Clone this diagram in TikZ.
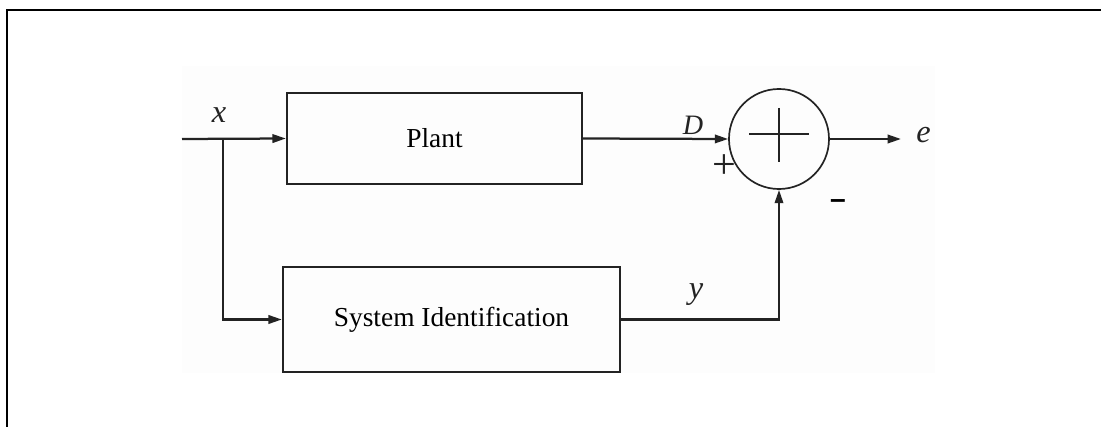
\documentclass[tikz,border=0pt]{standalone}
\usepackage{fontspec}
\setmainfont{Liberation Serif}
\newfontfamily\sansbold{Liberation Sans}
\usetikzlibrary{arrows.meta,calc}
\definecolor{bgfill}{RGB}{253,253,253}
\definecolor{ink}{RGB}{35,35,35}
\tikzset{
  blockbox/.style={draw=ink,line width=1.6pt,inner sep=0pt,font=\fontsize{19.5}{22}\selectfont},
  sumnode/.style={draw=ink,circle,line width=1.2pt,minimum size=2.5cm,inner sep=0pt},
  conn/.style={draw=ink,line width=1.6pt},
  arr/.style={conn,-{Triangle[length=9.5pt,width=6pt]}},
  siglabel/.style={font=\fontsize{23}{26}\selectfont\itshape,inner sep=0pt,text=ink},
}
\begin{document}
\begin{tikzpicture}[x=0.025cm,y=-0.025cm]
\useasboundingbox (0,0) rectangle (1101,427);
% faint background of the figure
\fill[bgfill] (182,66) rectangle (935,373);
% frame
\draw[line width=1.4pt] (1101,10) -- (7,10) -- (7,427);
% blocks
\node[blockbox,minimum width=7.375cm,minimum height=2.275cm] (plant) at (434.5,138.5) {Plant};
\node[blockbox,minimum width=8.425cm,minimum height=2.625cm] (sysid) at (451.5,319.5) {System Identification};
\node[sumnode] (sum) at (779,139) {};
\draw[ink,line width=1.2pt] ($(sum.center)+(-30,-5)$) -- ($(sum.center)+(30,-5)$);
\draw[ink,line width=1.2pt] ($(sum.center)+(0,-31)$) -- ($(sum.center)+(0,23)$);
% coordinates
\coordinate (in) at (182,139);
\coordinate (branch) at (223,139);
\coordinate (out) at (901,139);
% connectors
\draw[arr] (in) -- (plant.west);
\draw[arr] (branch) |- (sysid.west);
\draw[arr] (plant.east) -- (sum.west);
\draw[arr] (sum.east) -- (out);
\draw[arr] (sysid.east) -| (sum.south);
% labels
\node[siglabel] (lx) at (219,115) {x};
\node[siglabel,font=\fontsize{20}{22}\selectfont\itshape] (lD) at (693,125) {D};
\node[siglabel] (ly) at (696,295) {y};
\node[siglabel,anchor=west] (le) at (916,135) {e};
\node[text=ink,inner sep=0pt,font=\fontsize{30}{32}\selectfont] (lplus) at (724,167) {+};
\node[text=black,inner sep=0pt,font=\sansbold\bfseries\fontsize{20}{22}\selectfont] (lminus) at (838,204) {–};
\end{tikzpicture}
\end{document}
